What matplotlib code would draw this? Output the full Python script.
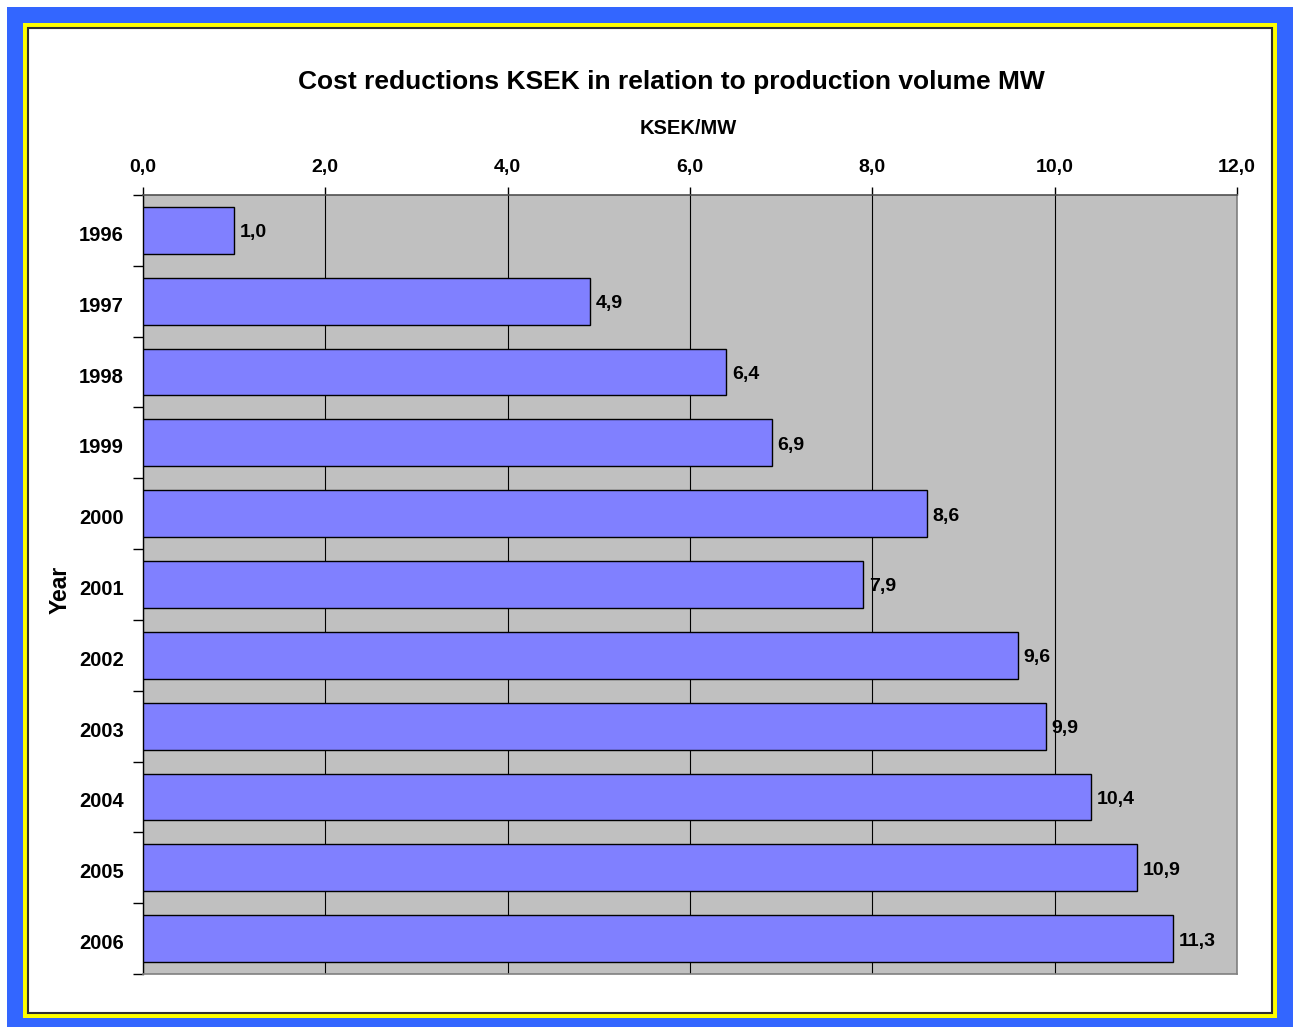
import matplotlib
matplotlib.use("Agg")
import matplotlib.pyplot as plt
from matplotlib.patches import Rectangle
from matplotlib.ticker import FixedLocator
from matplotlib.transforms import ScaledTranslation

years = ["1996", "1997", "1998", "1999", "2000", "2001", "2002", "2003", "2004", "2005", "2006"]
values = [1.0, 4.9, 6.4, 6.9, 8.6, 7.9, 9.6, 9.9, 10.4, 10.9, 11.3]
xticks = [0, 2, 4, 6, 8, 10, 12]
title = "Cost reductions KSEK in relation to production volume MW"
xlabel = "KSEK/MW"
ylabel = "Year"

W, H = 1294, 1027
plt.rcParams['font.family'] = ['Liberation Sans', 'DejaVu Sans']
fig = plt.figure(figsize=(W / 100, H / 100), dpi=100)
fig.patch.set_facecolor("white")


def px_rect(x0, y0, x1, y1, **kw):
    r = Rectangle((x0 / W, 1 - y1 / H), (x1 - x0) / W, (y1 - y0) / H,
                  transform=fig.transFigure, **kw)
    fig.patches.append(r)


px_rect(7, 7, 1293, 1027, facecolor="#3366FF", edgecolor="none", zorder=-3)
px_rect(23, 23, 1277, 1018, facecolor="#FFFF00", edgecolor="none", zorder=-2)
px_rect(28, 28, 1272, 1013, facecolor="white", edgecolor="#303030", linewidth=1.5, zorder=-1)

ax = fig.add_axes([143 / W, 1 - 974 / H, (1237 - 143) / W, (974 - 195) / H])
ax.set_zorder(2)
ax.set_facecolor("#C0C0C0")
ypos = list(range(len(years)))
bars = ax.barh(ypos, values, height=0.66, color="#8080FF", edgecolor="black", linewidth=1.0, zorder=3)
ax.set_xlim(0, 12)
ax.set_ylim(len(years) - 0.5, -0.5)

ax.xaxis.tick_top()
ax.set_xticks(xticks)
ax.set_xticklabels([f"{t:.1f}".replace(".", ",") for t in xticks], fontsize=14, fontweight="bold")
ax.tick_params(axis="x", direction="out", length=6, width=1, pad=8, color="black")
ax.set_yticks(ypos)
ax.set_yticklabels(years, fontsize=14.5, fontweight="bold")
ax.yaxis.set_minor_locator(FixedLocator([i - 0.5 for i in range(len(years) + 1)]))
ax.tick_params(axis="y", which="major", length=0, pad=14)
ax.tick_params(axis="y", which="minor", length=7, width=1, color="black")
ax.grid(axis="x", color="black", linewidth=0.8, zorder=1)
ax.set_axisbelow(True)

down = ScaledTranslation(0, -3 / 100, fig.dpi_scale_trans)
for lab in ax.get_yticklabels():
    lab.set_transform(lab.get_transform() + down)

for side in ["right", "bottom"]:
    ax.spines[side].set_color("#808080")
    ax.spines[side].set_linewidth(1.2)
ax.spines["top"].set_color("#505050")
ax.spines["top"].set_linewidth(1.2)
ax.spines["left"].set_color("black")
ax.spines["left"].set_linewidth(1.0)

texts = ax.bar_label(bars, labels=[f"{v:.1f}".replace(".", ",") for v in values],
                     padding=5, fontsize=14, fontweight="bold")
for t in texts:
    t.xyann = (4, -1.8)

fig.text(671 / W, 1 - 81.5 / H, title, ha="center", va="center", fontsize=19, fontweight="bold")
fig.text(688 / W, 1 - 128 / H, xlabel, ha="center", va="center", fontsize=14.5, fontweight="bold")
fig.text(60 / W, 1 - 590 / H, ylabel, ha="center", va="center", rotation=90, fontsize=16.5, fontweight="bold")

fig.savefig("out.png", dpi=100)
